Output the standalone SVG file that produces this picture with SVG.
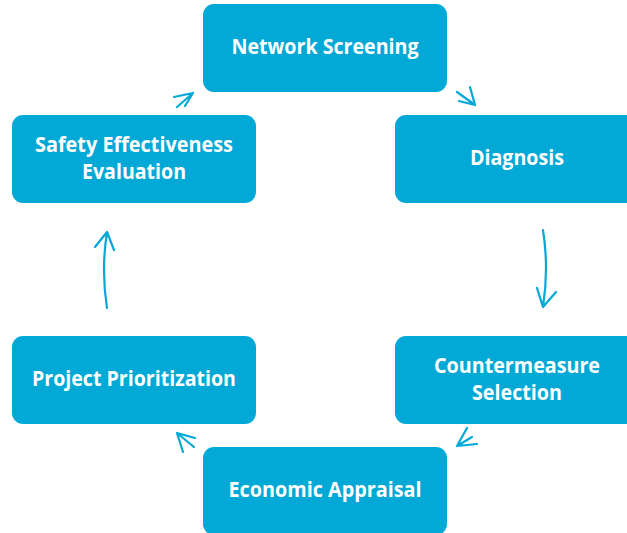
<svg xmlns="http://www.w3.org/2000/svg" width="627" height="533" viewBox="0 0 627 533">
<style>
.box{fill:#02A9D6;}
.lbl{fill:#ffffff;font-family:"Open Sans","Noto Sans","Liberation Sans",sans-serif;font-weight:700;font-size:21px;text-anchor:middle;}
.arr{fill:none;stroke:#02A9D6;stroke-width:2.2;stroke-linecap:round;stroke-linejoin:round;}
</style>
<rect width="627" height="533" fill="#ffffff"/>
<g id="network-screening">
<rect class="box" x="203" y="4" width="244" height="88" rx="11"/>
<text class="lbl" x="325" y="54" textLength="187" lengthAdjust="spacingAndGlyphs">Network Screening</text>
</g>
<g id="diagnosis">
<rect class="box" x="395" y="115" width="244" height="88" rx="11"/>
<text class="lbl" x="517" y="165" textLength="94" lengthAdjust="spacingAndGlyphs">Diagnosis</text>
</g>
<g id="countermeasure-selection">
<rect class="box" x="395" y="336" width="244" height="88" rx="11"/>
<text class="lbl" x="517" y="373" textLength="166" lengthAdjust="spacingAndGlyphs">Countermeasure</text>
<text class="lbl" x="517" y="400" textLength="90" lengthAdjust="spacingAndGlyphs">Selection</text>
</g>
<g id="economic-appraisal">
<rect class="box" x="203" y="447" width="244" height="88" rx="11"/>
<text class="lbl" x="325" y="497" textLength="193" lengthAdjust="spacingAndGlyphs">Economic Appraisal</text>
</g>
<g id="project-prioritization">
<rect class="box" x="12" y="336" width="244" height="88" rx="11"/>
<text class="lbl" x="134" y="386" textLength="204" lengthAdjust="spacingAndGlyphs">Project Prioritization</text>
</g>
<g id="safety-effectiveness-evaluation">
<rect class="box" x="12" y="115" width="244" height="88" rx="11"/>
<text class="lbl" x="134" y="152" textLength="198" lengthAdjust="spacingAndGlyphs">Safety Effectiveness</text>
<text class="lbl" x="134" y="179" textLength="104" lengthAdjust="spacingAndGlyphs">Evaluation</text>
</g>
<g id="connectors">
<path class="arr" d="M174,97 L193,93 M177,107 L193,93 M185,106 L193,93"/>
<path class="arr" d="M457,92 L475,105 M459,101 L475,105 M470,87 L475,105"/>
<path class="arr" d="M543,230 Q549,268 543,307 M537,288 L543,307 L556,292"/>
<path class="arr" d="M107,308 Q101,270 107,232 M95,247 L107,232 L114,250"/>
<path class="arr" d="M467,428 L457,446 M472,437 L457,446 M477,444 L457,446"/>
<path class="arr" d="M195,438 L177,433 M194,447 L177,433 M183,452 L177,433"/>
</g>
</svg>
